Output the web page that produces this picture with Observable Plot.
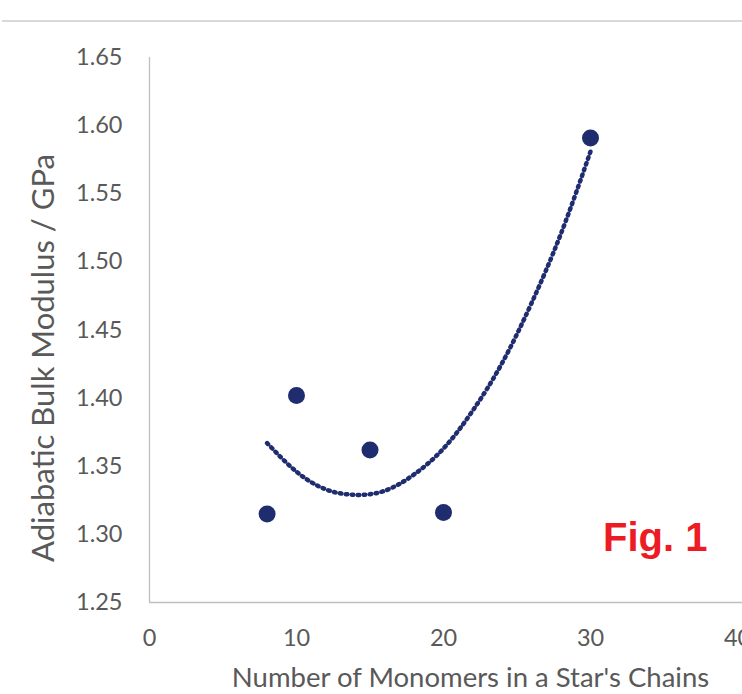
<!DOCTYPE html>
<html>
<head>
<meta charset="utf-8">
<script src="https://cdn.jsdelivr.net/npm/d3@7"></script>
<script src="https://cdn.jsdelivr.net/npm/@observablehq/plot@0.6"></script>
<style>
  html, body { margin: 0; padding: 0; background: #fff; overflow: hidden; }
  #wrap { position: relative; width: 742px; height: 694px; }
  #topline { position: absolute; left: 2px; right: 0; top: 20px; height: 2px; background: #d9d9d9; }
  #fig { position: absolute; left: 603px; top: 517px; font: bold 40px "Liberation Sans", Arial, sans-serif; color: #ed1c24; line-height: 1; }
</style>
</head>
<body>
<div id="wrap">
  <div id="chart"></div>
  <div id="topline"></div>
  <div id="fig">Fig. 1</div>
</div>
<script>
// Data points
const monomers = [8, 10, 15, 20, 30];
const modulus = [1.315, 1.402, 1.362, 1.316, 1.591];

// Trendline
const trendX = [8, 10, 12, 14, 16, 18, 20, 22, 24, 26, 28, 30];
const trendY = [1.367, 1.346, 1.333, 1.329, 1.332, 1.344, 1.363, 1.391, 1.426, 1.470, 1.521, 1.581];

// Ticks
const xTicks = [0, 10, 20, 30, 40];
const yTicks = [1.25, 1.30, 1.35, 1.40, 1.45, 1.50, 1.55, 1.60, 1.65];

const points = monomers.map((x, i) => ({x, y: modulus[i]}));
const trend = trendX.map((x, i) => ({x, y: trendY[i]}));

const navy = "#1f2d6e";
const textColor = "#595959";
const font = "Lato, 'Open Sans', sans-serif";

const plot = Plot.plot({
  width: 742,
  height: 694,
  marginLeft: 149,
  marginRight: 5,
  marginTop: 57,
  marginBottom: 92,
  style: { fontFamily: font, fontSize: "23.5px", color: textColor, background: "white", overflow: "hidden" },
  x: { domain: [0, 40] },
  y: { domain: [1.25, 1.65] },
  marks: [
    Plot.ruleY([1.25], { stroke: "#bfbfbf", strokeWidth: 1.3, x1: 0, x2: 40.5 }),
    Plot.ruleX([0], { stroke: "#bfbfbf", strokeWidth: 1.3, y1: 1.25, y2: 1.65 }),
    Plot.axisX({ ticks: xTicks, tickSize: 0, tickPadding: 27, tickFormat: d => String(d), fontSize: 23.5,
      label: "Number of Monomers in a Star's Chains", labelAnchor: "center", labelArrow: "none", labelOffset: 84 }),
    Plot.axisY({ ticks: yTicks, tickSize: 0, tickPadding: 27, tickFormat: d3.format(".2f"), fontSize: 23.5,
      label: "Adiabatic Bulk Modulus / GPa", labelAnchor: "center", labelArrow: "none", labelOffset: 118 }),
    Plot.line(trend, { x: "x", y: "y", curve: "natural", stroke: navy, strokeWidth: 4.5,
      strokeDasharray: "1.5 4.5", strokeLinecap: "round" }),
    Plot.dot(points, { x: "x", y: "y", r: 8.5, fill: navy, stroke: "none" })
  ]
});

document.getElementById("chart").appendChild(plot);
// axis-title sizes / placement
function shift(sel, dx, dy) {
  d3.select(plot).selectAll(sel).each(function () {
    const t = d3.select(this);
    t.attr("transform", `translate(${dx},${dy}) ` + (t.attr("transform") || ""));
  });
}
d3.select(plot).selectAll("g[aria-label='x-axis label'] text").style("font-size", "27.5px");
d3.select(plot).selectAll("g[aria-label='y-axis label'] text").style("font-size", "31px");
shift("g[aria-label='x-axis label'] text", 27, 0);
shift("g[aria-label='y-axis label'] text", 0, 28);
</script>
</body>
</html>
